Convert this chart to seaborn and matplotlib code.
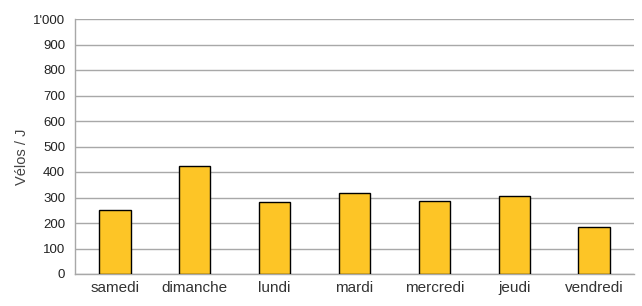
import matplotlib
matplotlib.use("Agg")
import matplotlib.pyplot as plt
import seaborn as sns
import pandas as pd
import numpy as np
from matplotlib.ticker import FuncFormatter, FixedLocator

days = ["samedi", "dimanche", "lundi", "mardi", "mercredi", "jeudi", "vendredi"]
velos = [250, 425, 282, 316, 286, 307, 184]
yticks = [0, 100, 200, 300, 400, 500, 600, 700, 800, 900, 1000]

sns.set_style("white")
plt.rcParams['font.family'] = ['Liberation Sans', 'DejaVu Sans']

df = pd.DataFrame({"jour": days, "velos": velos})

fig = plt.figure(figsize=(6.42, 3.06), dpi=100)
ax = fig.add_axes([75/642, 1 - 274/306, 559/642, 255/306])

sns.barplot(data=df, x="jour", y="velos", color="#FDC526", edgecolor="black",
            linewidth=1.0, width=0.39, saturation=1, ax=ax, zorder=3)

ax.set_ylim(0, 1000)
ax.set_xlim(-0.5, len(days) - 0.5)
ax.set_yticks(yticks)
ax.yaxis.set_major_formatter(FuncFormatter(lambda v, p: "1'000" if v == 1000 else f"{int(v)}"))
ax.grid(axis="y", color="#A8A8A8", linewidth=1.0, zorder=0)
ax.set_axisbelow(True)

for s in ["top", "right"]:
    ax.spines[s].set_visible(False)
ax.spines["left"].set_color("#A8A8A8")
ax.spines["bottom"].set_color("#A8A8A8")
ax.spines["left"].set_linewidth(1.0)
ax.spines["bottom"].set_linewidth(1.0)

ax.tick_params(axis="x", which="major", length=0, pad=5, labelsize=11, labelcolor="#333333")
ax.xaxis.set_minor_locator(FixedLocator(np.arange(-0.5, len(days), 1.0)))
ax.tick_params(axis="x", which="minor", length=4, color="#A8A8A8", direction="out")
ax.tick_params(axis="y", which="major", length=4, color="#A8A8A8", direction="out",
               labelsize=9.5, labelcolor="#222222", pad=3)

ax.set_xlabel("")
ax.set_ylabel("Vélos / J", fontsize=10.5, color="#444444")
ax.yaxis.set_label_coords(-0.083, 0.46)

fig.savefig("out.png", dpi=100)
